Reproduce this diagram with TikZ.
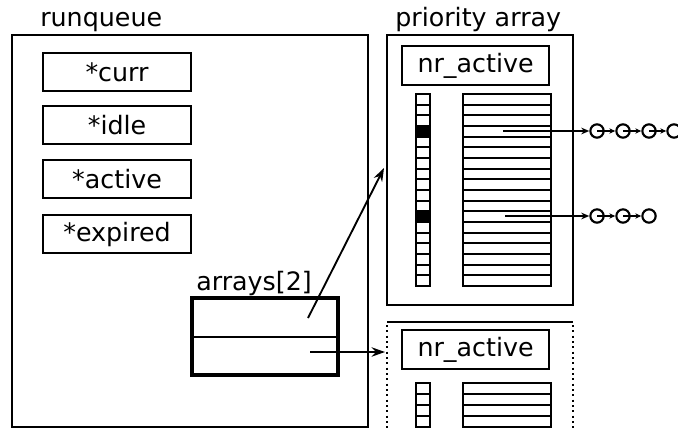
\documentclass[tikz,border=0pt]{standalone}
\usepackage{fontspec}
\setmainfont{DejaVu Sans}
\usetikzlibrary{arrows.meta}
\begin{document}
\begin{tikzpicture}[x=0.75pt,y=-0.75pt,
  every node/.style={font=\fontsize{19}{22}\selectfont, inner sep=0pt},
  frame/.style={draw, line width=1.6pt},
  field/.style={draw, line width=1.6pt, anchor=north west},
  lbl/.style={anchor=base west},
  ptr/.style={line width=1.4pt, -{Stealth[length=10pt,width=7pt]}},
  qptr/.style={line width=1.4pt, -{Stealth[length=6pt,width=5pt]}},
  sptr/.style={line width=1.2pt, -{Stealth[length=4.5pt,width=4pt]}},
  task/.style={draw, circle, line width=1.6pt, minimum size=10pt}]
\useasboundingbox (0,0) rectangle (678,428);
% runqueue
\node[lbl] (rqlbl) at (40,27) {runqueue};
\draw[frame] (12,35) rectangle (368,427);
\node[field, minimum width=148*0.75pt, minimum height=38*0.75pt] (curr) at (42,52) {};
\node at (curr.center) {*curr};
\node[field, minimum width=148*0.75pt, minimum height=38*0.75pt] (idle) at (42,105) {};
\node at (idle.center) {*idle};
\node[field, minimum width=148*0.75pt, minimum height=38*0.75pt] (act) at (42,159) {};
\node at (act.center) {*active};
\node[field, minimum width=148*0.75pt, minimum height=38*0.75pt] (exp) at (42,214) {};
\node at (exp.center) {*expired};
% arrays[2]
\node[lbl] (arrlbl) at (196,290) {arrays[2]};
\draw[line width=2.4pt] (192,298) rectangle (338,375);
\draw[line width=1.6pt] (192,337) -- (338,337);
\coordinate (a0) at (308,318);
\coordinate (a1) at (310,352);
% priority array (active)
\node[lbl] (palbl) at (395,27) {priority array};
\draw[frame] (387,35) rectangle (573,305);
\node[field, minimum width=147*0.75pt, minimum height=39*0.75pt] (nr1) at (401,45) {};
\node at (nr1.center) {nr\_active};
\coordinate (pa1) at (384,168);
% bitmap and queue list
\foreach \i in {0,...,17} {
  \pgfmathsetmacro{\ya}{94+\i*192/18}
  \pgfmathsetmacro{\yb}{94+(\i+1)*192/18}
  \draw[line width=1.4pt] (416,\ya) rectangle (430,\yb);
  \draw[line width=1.5pt] (463,\ya) rectangle (551,\yb);
}
\fill (416,{94+3*192/18}) rectangle (430,{94+4*192/18});
\fill (416,{94+11*192/18}) rectangle (430,{94+12*192/18});
\draw[line width=1.6pt] (416,94) rectangle (430,286);
\draw[line width=1.6pt] (463,94) rectangle (551,286);
% task lists
\coordinate (q1) at (503,131);
\coordinate (q2) at (505,216);
\node[task] (t11) at (597,131) {};
\node[task] (t12) at (623,131) {};
\node[task] (t13) at (649,131) {};
\node[task] (t14) at (674,131) {};
\node[task] (t21) at (597,216) {};
\node[task] (t22) at (623,216) {};
\node[task] (t23) at (649,216) {};
\draw[qptr] (q1) -- (t11.west);
\draw[qptr] (q2) -- (t21.west);
\draw[sptr] (t11.center) -- (t12.west);
\draw[sptr] (t12.center) -- (t13.west);
\draw[sptr] (t13.center) -- (t14.west);
\draw[sptr] (t21.center) -- (t22.west);
\draw[sptr] (t22.center) -- (t23.west);
% expired priority array (partial)
\draw[line width=1.6pt] (387,322) -- (573,322);
\draw[line width=1.6pt, dash pattern=on 1.5pt off 2.5pt] (387,325) -- (387,428);
\draw[line width=1.6pt, dash pattern=on 1.5pt off 2.5pt] (573,325) -- (573,428);
\node[field, minimum width=147*0.75pt, minimum height=39*0.75pt] (nr2) at (401,329) {};
\node at (nr2.center) {nr\_active};
\coordinate (pa2) at (385,352);
\begin{scope}
\clip (380,380) rectangle (600,427.5);
\foreach \i in {0,...,4} {
  \pgfmathsetmacro{\ya}{383+\i*11}
  \pgfmathsetmacro{\yb}{383+(\i+1)*11}
  \draw[line width=1.4pt] (416,\ya) rectangle (430,\yb);
  \draw[line width=1.5pt] (463,\ya) rectangle (551,\yb);
}
\end{scope}
% pointers from arrays[2]
\draw[ptr] (a0) -- (pa1);
\draw[ptr] (a1) -- (pa2);
\end{tikzpicture}
\end{document}
